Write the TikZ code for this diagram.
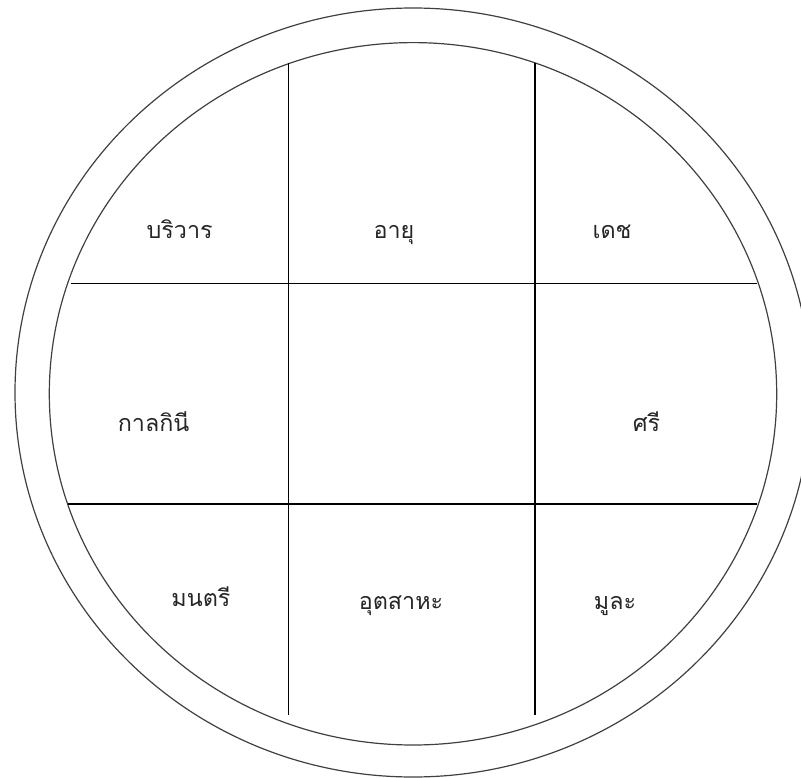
\documentclass[tikz,border=0pt]{standalone}
\usepackage{fontspec}
\newfontfamily\thaifont[Script=Thai]{Loma}
\tikzset{
  ring/.style={draw=black!75, line width=0.9pt},
  grid/.style={draw=black, line width=0.8pt},
  lbl/.style={font=\thaifont\fontsize{17.5}{20}\selectfont, text=black!85, inner sep=0pt, anchor=base}
}
\begin{document}
\begin{tikzpicture}[x=0.75pt,y=-0.75pt]
\useasboundingbox (0,0) rectangle (801,778);
\clip (0,0) rectangle (801,778);
% rings
\draw[ring] (413,392.5) ellipse [x radius=398, y radius=384.5];
\draw[ring] (413,393.8) ellipse [x radius=363.7, y radius=351.2];
% grid lines
\draw[grid] (288.3,62.7) -- (288.3,715);
\draw[grid] (535,62.7) -- (535,715);
\draw[grid] (70.7,283.3) -- (756.7,283.3);
\draw[grid] (68.3,504) -- (756.7,504);
% labels
\node[lbl] (boriwan) at (179.6,238) {บริวาร};
\node[lbl] (ayu) at (394,238) {อายุ};
\node[lbl] (det) at (612,238) {เดช};
\node[lbl] (kalakini) at (153.6,431) {กาลกินี};
\node[lbl] (si) at (646.5,431) {ศรี};
\node[lbl] (montri) at (201,606) {มนตรี};
\node[lbl] (utsaha) at (401,609) {อุตสาหะ};
\node[lbl] (mula) at (615,609) {มูละ};
\end{tikzpicture}
\end{document}
